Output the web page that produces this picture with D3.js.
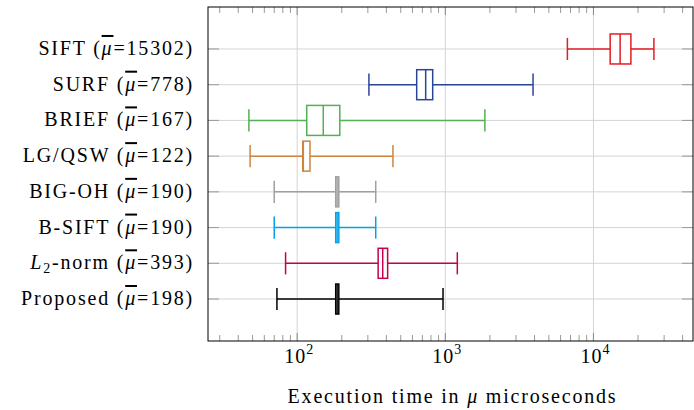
<!DOCTYPE html>
<html>
<head>
<meta charset="utf-8">
<script src="https://cdn.jsdelivr.net/npm/d3@7"></script>
<style>
  body { margin: 0; background: #fff; }
  text { font-family: "Liberation Serif", serif; fill: #000; }
</style>
</head>
<body>
<svg id="chart"></svg>
<script>
// methods, top row first
const methods = ["SIFT", "SURF", "BRIEF", "LG/QSW", "BIG-OH", "B-SIFT", "L2-norm", "Proposed"];
const means = [15302, 778, 167, 122, 190, 190, 393, 198];
const lowWhisker = [6670, 305, 47.2, 48.1, 70, 70, 83.5, 73];
const lowerQuartile = [12970, 641, 116, 109, 182, 182, 352, 182];
const medians = [15140, 737, 150, 110, 186, 186, 378, 186];
const upperQuartile = [17900, 822, 194, 122, 191, 191, 408, 191];
const highWhisker = [25600, 3910, 1850, 443, 339, 339, 1205, 965];
const colors = ["#e41d24", "#2b4596", "#52b152", "#cd853f", "#a0a0a0", "#00a2e8", "#c8004c", "#000000"];
const majorTicks = [100, 1000, 10000];

const width = 694, height = 410;
const margin = {top: 7, right: 1, bottom: 69, left: 208};

const svg = d3.select("#chart").attr("width", width).attr("height", height);

const x = d3.scaleLog()
    .domain([25, 47000])
    .range([margin.left, width - margin.right]);

// row 1 = bottom (Proposed), row 8 = top (SIFT)
const y = d3.scaleLinear()
    .domain([-0.175, methods.length + 1.175])
    .range([height - margin.bottom, margin.top]);

const rowOf = i => methods.length - i;

const minorTicks = [];
for (let e = 1; e <= 4; e++) {
  for (let k = 2; k <= 9; k++) {
    const v = k * Math.pow(10, e);
    if (v > 25 && v < 47000) minorTicks.push(v);
  }
}

const boxes = methods.map((m, i) => ({
  name: m, mean: means[i], lo: lowWhisker[i], q1: lowerQuartile[i],
  med: medians[i], q3: upperQuartile[i], hi: highWhisker[i], color: colors[i], row: rowOf(i)
}));

// grid
svg.append("g").selectAll("line")
    .data(majorTicks)
    .enter()
    .append("line")
    .attr("x1", d => x(d)).attr("x2", d => x(d))
    .attr("y1", margin.top).attr("y2", height - margin.bottom)
    .attr("stroke", "#d4d4d4").attr("stroke-width", 1);

svg.append("g").selectAll("line")
    .data(boxes)
    .enter()
    .append("line")
    .attr("x1", margin.left).attr("x2", width - margin.right)
    .attr("y1", d => y(d.row)).attr("y2", d => y(d.row))
    .attr("stroke", "#d4d4d4").attr("stroke-width", 1);

// ticks, drawn inward on all four sides
const tickG = svg.append("g").attr("stroke", "#9a9a9a").attr("stroke-width", 1);
[margin.top, height - margin.bottom].forEach((yy, side) => {
  const dir = side === 0 ? 1 : -1;
  tickG.selectAll(null)
      .data(minorTicks)
      .enter()
      .append("line")
      .attr("x1", d => x(d)).attr("x2", d => x(d))
      .attr("y1", yy).attr("y2", yy + dir * 6);
  tickG.selectAll(null)
      .data(majorTicks)
      .enter()
      .append("line")
      .attr("x1", d => x(d)).attr("x2", d => x(d))
      .attr("y1", yy).attr("y2", yy + dir * 8)
      .attr("stroke", "#888");
});
[margin.left, width - margin.right].forEach((xx, side) => {
  const dir = side === 0 ? 1 : -1;
  tickG.selectAll(null)
      .data(boxes)
      .enter()
      .append("line")
      .attr("x1", xx).attr("x2", xx + dir * 11)
      .attr("y1", d => y(d.row)).attr("y2", d => y(d.row));
});

// boxplots
const boxH = y(0) - y(0.84);
const capH = y(0) - y(0.62);
const bp = svg.append("g").selectAll("g")
    .data(boxes)
    .enter()
    .append("g")
    .attr("stroke", d => d.color)
    .attr("stroke-width", 1.5)
    .attr("fill", "none");

bp.append("line")
    .attr("x1", d => x(d.lo)).attr("x2", d => x(d.q1))
    .attr("y1", d => y(d.row)).attr("y2", d => y(d.row));
bp.append("line")
    .attr("x1", d => x(d.q3)).attr("x2", d => x(d.hi))
    .attr("y1", d => y(d.row)).attr("y2", d => y(d.row));
bp.append("line")
    .attr("x1", d => x(d.lo)).attr("x2", d => x(d.lo))
    .attr("y1", d => y(d.row) - capH / 2).attr("y2", d => y(d.row) + capH / 2);
bp.append("line")
    .attr("x1", d => x(d.hi)).attr("x2", d => x(d.hi))
    .attr("y1", d => y(d.row) - capH / 2).attr("y2", d => y(d.row) + capH / 2);
bp.append("rect")
    .attr("x", d => x(d.q1))
    .attr("width", d => x(d.q3) - x(d.q1))
    .attr("y", d => y(d.row) - boxH / 2)
    .attr("height", boxH)
    .attr("fill", "#fff");
bp.append("line")
    .attr("x1", d => x(d.med)).attr("x2", d => x(d.med))
    .attr("y1", d => y(d.row) - boxH / 2).attr("y2", d => y(d.row) + boxH / 2);

// frame
svg.append("rect")
    .attr("x", margin.left).attr("y", margin.top)
    .attr("width", width - margin.right - margin.left)
    .attr("height", height - margin.bottom - margin.top)
    .attr("fill", "none").attr("stroke", "#000").attr("stroke-width", 1);

// category labels
const labels = svg.append("g").selectAll("text")
    .data(boxes)
    .enter()
    .append("text")
    .attr("x", 194)
    .attr("y", d => y(d.row) + 6)
    .attr("text-anchor", "end")
    .style("font-size", "20px")
    .style("letter-spacing", "1.8px");

labels.each(function(d) {
  const t = d3.select(this);
  if (d.name === "L2-norm") {
    t.append("tspan").style("font-style", "italic").text("L");
    t.append("tspan").attr("dy", 4).style("font-size", "14px").text("2");
    t.append("tspan").attr("dy", -4).text("-norm (");
  } else {
    t.append("tspan").text(d.name + " (");
  }
  t.append("tspan").style("font-style", "italic").style("text-decoration", "overline").text("\u03bc");
  t.append("tspan").text("=" + d.mean + ")");
});

// x tick labels
const xl = svg.append("g").selectAll("text")
    .data(majorTicks)
    .enter()
    .append("text")
    .attr("x", d => x(d) + 2)
    .attr("y", 363)
    .attr("text-anchor", "middle")
    .style("font-size", "20px")
    .style("letter-spacing", "1px");
xl.append("tspan").text("10");
xl.append("tspan").attr("dy", -9).style("font-size", "14px").text(d => Math.round(Math.log10(d)));

// axis title
const title = svg.append("text")
    .attr("x", (margin.left + width - margin.right) / 2 + 2)
    .attr("y", 403)
    .attr("text-anchor", "middle")
    .style("font-size", "20px")
    .style("letter-spacing", "1.8px");
title.append("tspan").text("Execution time in ");
title.append("tspan").style("font-style", "italic").text("\u03bc");
title.append("tspan").text(" microseconds");
</script>
</body>
</html>
